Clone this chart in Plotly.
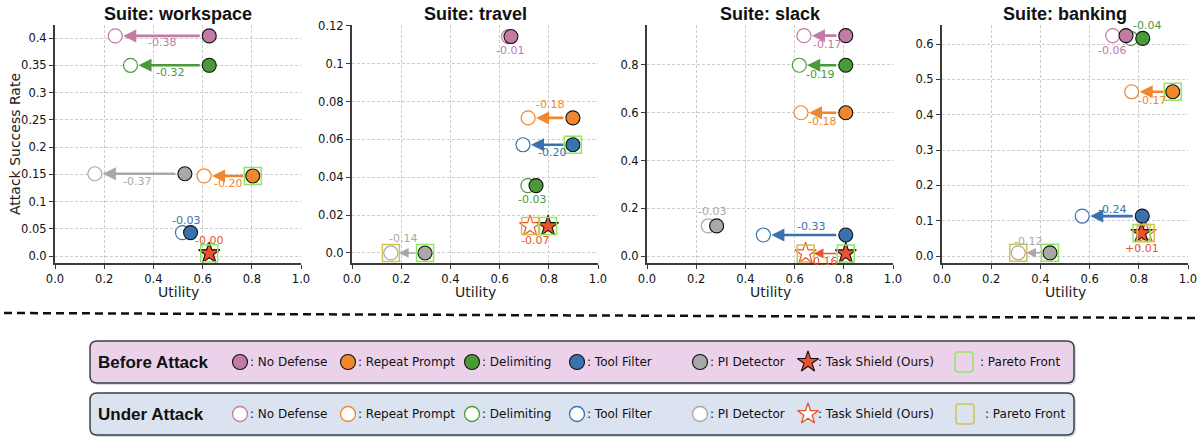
import plotly.graph_objects as go

W, H = 1203, 437

# ---------------- data ----------------
methods = ["No Defense", "Repeat Prompt", "Delimiting", "Tool Filter", "PI Detector", "Task Shield (Ours)"]
suites = ["workspace", "travel", "slack", "banking"]

workspace_utility_before = [0.627, 0.804, 0.627, 0.551, 0.528, 0.627]
workspace_utility_after = [0.245, 0.606, 0.307, 0.518, 0.162, 0.627]
workspace_asr = [0.404, 0.147, 0.350, 0.043, 0.151, 0.005]
workspace_delta = ["-0.38", "-0.20", "-0.32", "-0.03", "-0.37", "-0.00"]
workspace_pareto_before = ["Repeat Prompt", "Task Shield (Ours)"]
workspace_pareto_after = []

travel_utility_before = [0.646, 0.898, 0.748, 0.898, 0.297, 0.797]
travel_utility_after = [0.636, 0.716, 0.715, 0.695, 0.158, 0.724]
travel_asr = [0.1144, 0.0714, 0.0356, 0.0572, 0.0, 0.0142]
travel_delta = ["-0.01", "-0.18", "-0.03", "-0.20", "-0.14", "-0.07"]
travel_pareto_before = ["Tool Filter", "PI Detector", "Task Shield (Ours)"]
travel_pareto_after = ["PI Detector", "Task Shield (Ours)"]

slack_utility_before = [0.808, 0.808, 0.808, 0.808, 0.283, 0.808]
slack_utility_after = [0.638, 0.626, 0.619, 0.473, 0.249, 0.645]
slack_asr = [0.923, 0.600, 0.799, 0.088, 0.126, 0.011]
slack_delta = ["-0.17", "-0.18", "-0.19", "-0.33", "-0.03", "-0.16"]
slack_pareto_before = ["Task Shield (Ours)"]
slack_pareto_after = ["Task Shield (Ours)"]

banking_utility_before = [0.748, 0.938, 0.816, 0.814, 0.439, 0.811]
banking_utility_after = [0.694, 0.771, 0.768, 0.570, 0.310, 0.828]
banking_asr = [0.624, 0.465, 0.616, 0.113, 0.009, 0.065]
banking_delta = ["-0.06", "-0.17", "-0.04", "-0.24", "-0.12", "+0.01"]
banking_pareto_before = ["Repeat Prompt", "PI Detector", "Task Shield (Ours)"]
banking_pareto_after = ["PI Detector", "Task Shield (Ours)"]

x_ticks = [0, 0.2, 0.4, 0.6, 0.8, 1.0]
x_tick_labels = ["0.0", "0.2", "0.4", "0.6", "0.8", "1.0"]
workspace_y_ticks = [0, 0.05, 0.1, 0.15, 0.2, 0.25, 0.3, 0.35, 0.4]
workspace_y_tick_labels = ["0.0", "0.05", "0.1", "0.15", "0.2", "0.25", "0.3", "0.35", "0.4"]
travel_y_ticks = [0, 0.02, 0.04, 0.06, 0.08, 0.1, 0.12]
travel_y_tick_labels = ["0.0", "0.02", "0.04", "0.06", "0.08", "0.1", "0.12"]
slack_y_ticks = [0, 0.2, 0.4, 0.6, 0.8]
slack_y_tick_labels = ["0.0", "0.2", "0.4", "0.6", "0.8"]
banking_y_ticks = [0, 0.1, 0.2, 0.3, 0.4, 0.5, 0.6]
banking_y_tick_labels = ["0.0", "0.1", "0.2", "0.3", "0.4", "0.5", "0.6"]

# ---------------- styles / layout ----------------
method_colors = ["#c27ba5", "#f0872f", "#4a9a3a", "#3a72ae", "#a8a8a8", "#e8542b"]
pareto_before_color = "#8ee85c"
pareto_after_color = "#d2c24e"

# label offsets (dx, dy) in px, dy positive = downward
workspace_label_off = [(0, 7), (0, 8), (0, 7), (0, -12), (-3, 8), (0, -13)]
travel_label_off = [(0, 14), (-1, -13), (0, 14), (4, 8), (-5, -14), (-4, 14)]
slack_label_off = [(2, 9), (-1, 9), (-3, 9), (6, -8), (0, -14), (-3, 8)]
banking_label_off = [(-7, 15), (0, 9), (10, -13), (0, -7), (-6, -11), (-2, 15)]

suite_data = {
    "workspace": (workspace_utility_before, workspace_utility_after, workspace_asr, workspace_delta,
                  workspace_pareto_before, workspace_pareto_after, workspace_y_ticks, workspace_y_tick_labels,
                  workspace_label_off, [-0.0128, 0.424]),
    "travel": (travel_utility_before, travel_utility_after, travel_asr, travel_delta,
               travel_pareto_before, travel_pareto_after, travel_y_ticks, travel_y_tick_labels,
               travel_label_off, [-0.0053, 0.1205]),
    "slack": (slack_utility_before, slack_utility_after, slack_asr, slack_delta,
              slack_pareto_before, slack_pareto_after, slack_y_ticks, slack_y_tick_labels,
              slack_label_off, [-0.0293, 0.9675]),
    "banking": (banking_utility_before, banking_utility_after, banking_asr, banking_delta,
                banking_pareto_before, banking_pareto_after, banking_y_ticks, banking_y_tick_labels,
                banking_label_off, [-0.0198, 0.654]),
}

panel_left = [55, 352, 647, 942]
panel_w = 246
panel_top, panel_bottom = 25, 263

FONT = "DejaVu Sans"
TITLE_FONT = "Liberation Sans"


def px(x):
    return x / W


def py(y):
    return 1 - y / H


fig = go.Figure()
annotations = []
shapes = []
layout_axes = {}

for i, suite in enumerate(suites):
    (ub, ua, asr, delta, pb, pa, yt, ytl, loff, yr) = suite_data[suite]
    k = i + 1
    xa = "x" if k == 1 else f"x{k}"
    ya = "y" if k == 1 else f"y{k}"
    xd = [px(panel_left[i]), px(panel_left[i] + panel_w)]
    yd = [py(panel_bottom), py(panel_top)]
    axis_common = dict(showline=True, linecolor="#3a3a3a", linewidth=2, mirror=False,
                       ticks="outside", ticklen=4, tickwidth=1, tickcolor="#3a3a3a",
                       showgrid=True, gridcolor="#cccccc", griddash="3px,2px", gridwidth=0.8,
                       zeroline=False, tickfont=dict(family=FONT, size=11.5, color="#111"),
                       fixedrange=True, automargin=False)
    layout_axes["xaxis" if k == 1 else f"xaxis{k}"] = dict(
        domain=xd, range=[0, 1], tickvals=x_ticks, ticktext=x_tick_labels,
        anchor=ya, **axis_common)
    layout_axes["yaxis" if k == 1 else f"yaxis{k}"] = dict(
        domain=yd, range=yr, tickvals=yt, ticktext=ytl, anchor=xa, **axis_common)

    # after-attack (open) markers
    for j, m in enumerate(methods):
        star = m.startswith("Task Shield")
        fig.add_trace(go.Scatter(
            x=[ua[j]], y=[asr[j]], xaxis=xa, yaxis=ya, mode="markers", cliponaxis=False,
            showlegend=False, hoverinfo="skip",
            marker=dict(symbol="star" if star else "circle", size=16 if star else 14,
                        color="white", line=dict(color=method_colors[j], width=1.2))))
    # before-attack (filled) markers
    for j, m in enumerate(methods):
        star = m.startswith("Task Shield")
        fig.add_trace(go.Scatter(
            x=[ub[j]], y=[asr[j]], xaxis=xa, yaxis=ya, mode="markers", cliponaxis=False,
            showlegend=False, hoverinfo="skip",
            marker=dict(symbol="star" if star else "circle", size=16 if star else 14,
                        color=method_colors[j], line=dict(color="#111", width=1.1))))
    # pareto boxes
    for m in pb:
        j = methods.index(m)
        fig.add_trace(go.Scatter(
            x=[ub[j]], y=[asr[j]], xaxis=xa, yaxis=ya, mode="markers", cliponaxis=False,
            showlegend=False, hoverinfo="skip",
            marker=dict(symbol="square-open", size=17, color=pareto_before_color,
                        line=dict(color=pareto_before_color, width=1.5))))
    for m in pa:
        j = methods.index(m)
        fig.add_trace(go.Scatter(
            x=[ua[j]], y=[asr[j]], xaxis=xa, yaxis=ya, mode="markers", cliponaxis=False,
            showlegend=False, hoverinfo="skip",
            marker=dict(symbol="square-open", size=17, color=pareto_after_color,
                        line=dict(color=pareto_after_color, width=1.5))))
    # arrows + labels
    for j, m in enumerate(methods):
        dpx = abs(ub[j] - ua[j]) * panel_w
        if dpx > 22:
            big = abs(ub[j] - ua[j]) >= 0.165
            annotations.append(dict(
                x=ua[j], y=asr[j], ax=ub[j], ay=asr[j], xref=xa, yref=ya, axref=xa, ayref=ya,
                text="", showarrow=True, arrowhead=2, arrowsize=1.0 if big else 1.3,
                arrowwidth=2.6 if big else 1.5, arrowcolor=method_colors[j],
                standoff=8, startstandoff=8))
        dx, dy = loff[j]
        annotations.append(dict(
            x=(ub[j] + ua[j]) / 2, y=asr[j], xref=xa, yref=ya, text=delta[j], showarrow=False,
            xanchor="center", yanchor="middle",
            xshift=dx, yshift=-dy, font=dict(family=FONT, size=11, color=method_colors[j])))

    # titles
    cx = px(panel_left[i] + panel_w / 2)
    annotations.append(dict(x=cx, y=py(14), xref="paper", yref="paper", text=f"<b>Suite: {suite}</b>",
                            xanchor="center", yanchor="middle",
                            showarrow=False, font=dict(family=TITLE_FONT, size=18, color="#111")))
    annotations.append(dict(x=cx, y=py(292), xref="paper", yref="paper", text="Utility",
                            xanchor="center", yanchor="middle",
                            showarrow=False, font=dict(family=FONT, size=14, color="#222")))

annotations.append(dict(x=px(15), y=py(144), xref="paper", yref="paper", text="Attack Success Rate",
                        xanchor="center", yanchor="middle",
                        textangle=-90, showarrow=False, font=dict(family=FONT, size=14, color="#222")))

# ---------------- page-level axis for legend markers ----------------
layout_axes["xaxis5"] = dict(domain=[0, 1], range=[0, W], visible=False, fixedrange=True, anchor="y5")
layout_axes["yaxis5"] = dict(domain=[0, 1], range=[H, 0], visible=False, fixedrange=True, anchor="x5")

# divider dashed line
shapes.append(dict(type="line", xref="paper", yref="paper", x0=px(4), y0=py(313), x1=px(1196), y1=py(318),
                   line=dict(color="#111", width=2.5, dash="8px,5px")))


def rounded_rect(x0, y0, x1, y1, r):
    X0, X1 = px(x0), px(x1)
    Y0, Y1 = py(y0), py(y1)
    rx, ry = r / W, r / H
    return (f"M {X0 + rx},{Y0} L {X1 - rx},{Y0} Q {X1},{Y0} {X1},{Y0 - ry} L {X1},{Y1 + ry} "
            f"Q {X1},{Y1} {X1 - rx},{Y1} L {X0 + rx},{Y1} Q {X0},{Y1} {X0},{Y1 + ry} "
            f"L {X0},{Y0 - ry} Q {X0},{Y0} {X0 + rx},{Y0} Z")


legend_rows = [("Before Attack", 341, 383, "#ecd1eb"), ("Under Attack", 393, 435, "#dce3f0")]
for name, y0, y1, fill in legend_rows:
    shapes.append(dict(type="path", xref="paper", yref="paper", layer="below",
                       path=rounded_rect(92, y0 + 2, 1076, y1 + 2, 7),
                       fillcolor="rgba(0,0,0,0.15)", line=dict(width=0)))
    shapes.append(dict(type="path", xref="paper", yref="paper", layer="below",
                       path=rounded_rect(90, y0, 1074, y1, 7),
                       fillcolor=fill, line=dict(color="#3a4048", width=1.5)))

legend_marker_x = [240, 348, 472, 577, 700, 808]
legend_text_x = [248, 356, 480, 585, 708, 816]
for r, (name, y0, y1, fill) in enumerate(legend_rows):
    yc = (y0 + y1) / 2
    annotations.append(dict(x=px(96), y=py(yc), xref="paper", yref="paper", xanchor="left", yanchor="middle",
                            text=f"<b>{name}</b>", showarrow=False,
                            font=dict(family=TITLE_FONT, size=17, color="#111")))
    for j, m in enumerate(methods):
        star = m.startswith("Task Shield")
        if r == 0:
            mk = dict(symbol="star" if star else "circle", size=16 if star else 15,
                      color=method_colors[j], line=dict(color="#111", width=1.1))
        else:
            mk = dict(symbol="star" if star else "circle", size=16 if star else 15,
                      color="white", line=dict(color=method_colors[j], width=1.3))
        fig.add_trace(go.Scatter(x=[legend_marker_x[j]], y=[yc], xaxis="x5", yaxis="y5", mode="markers",
                                 cliponaxis=False, showlegend=False, hoverinfo="skip", marker=mk))
        annotations.append(dict(x=px(legend_text_x[j]), y=py(yc), xref="paper", yref="paper",
                                xanchor="left", yanchor="middle",
                                text=": " + m, showarrow=False,
                                font=dict(family=FONT, size=12, color="#111")))
    pc = pareto_before_color if r == 0 else pareto_after_color
    bx = 964 if r == 0 else 965
    shapes.append(dict(type="path", xref="paper", yref="paper",
                       path=rounded_rect(bx - 9, yc - 10, bx + 9, yc + 10, 3),
                       line=dict(color=pc, width=1.5), fillcolor="rgba(0,0,0,0)"))
    annotations.append(dict(x=px(978 if r == 0 else 983), y=py(yc), xref="paper", yref="paper",
                            xanchor="left", yanchor="middle",
                            text=": Pareto Front", showarrow=False,
                            font=dict(family=FONT, size=12, color="#111")))

fig.update_layout(
    width=W, height=H, margin=dict(l=0, r=0, t=0, b=0, pad=0, autoexpand=False),
    paper_bgcolor="white", plot_bgcolor="rgba(0,0,0,0)",
    showlegend=False, annotations=annotations, shapes=shapes, **layout_axes)

fig.write_html("out.html", config={"displayModeBar": False},
               post_script="document.body.style.margin='0px';document.body.style.overflow='hidden';")
